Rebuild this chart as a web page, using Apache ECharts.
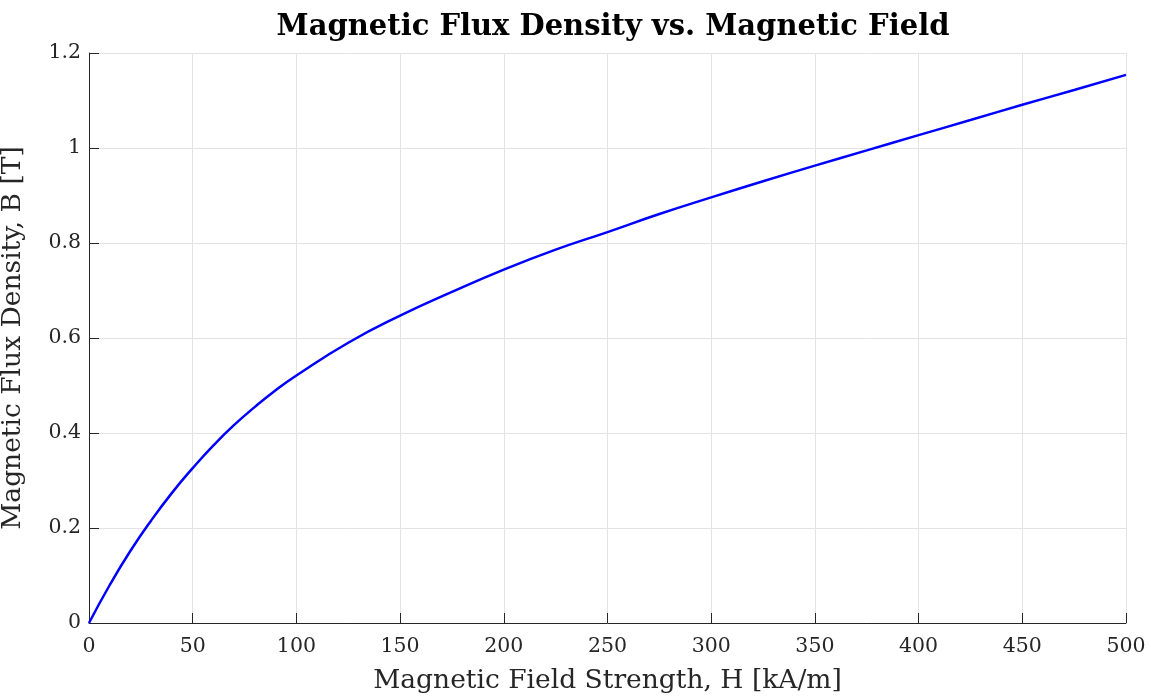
<!DOCTYPE html>
<html>
<head>
<meta charset="utf-8">
<script src="https://cdn.jsdelivr.net/npm/echarts@6/dist/echarts.min.js"></script>
<style>
	html, body {margin: 0; padding: 0; background: #fff;}
	#chart {width: 1151px; height: 697px;}
</style>
</head>
<body>
<div id="chart"></div>
<script>
// H [kA/m] and B [T]
const fieldH = [0, 10, 20, 30, 40, 50, 60, 70, 80, 90, 100, 125, 150, 175, 200, 225, 250, 275, 300, 325, 350, 375, 400, 425, 450, 475, 500];
const fluxB = [0, 0.080, 0.152, 0.216, 0.274, 0.326, 0.374, 0.417, 0.455, 0.490, 0.521, 0.590, 0.647, 0.697, 0.744, 0.786, 0.823, 0.861, 0.896, 0.930, 0.963, 0.995, 1.027, 1.059, 1.091, 1.122, 1.154];
const xTicks = [0, 50, 100, 150, 200, 250, 300, 350, 400, 450, 500];
const yTicks = [0, 0.2, 0.4, 0.6, 0.8, 1, 1.2];

const font = '"DejaVu Serif", "Liberation Serif", serif';
const ink = '#262626';

let chart = echarts.init(document.getElementById('chart'));

let points = [];
fieldH.map((h, i) => points.push([h, fluxB[i]]));

let option = {
	animation: false,
	title: {
		text: 'Magnetic Flux Density vs. Magnetic Field',
		left: 608,
		textAlign: 'center',
		top: 8,
		textStyle: {
			fontFamily: font,
			fontWeight: 'bold',
			fontSize: 29,
			color: '#000'
		}
	},
	grid: {
		left: 89,
		right: 25,
		top: 53,
		bottom: 74,
		outerBoundsMode: 'none'
	},
	xAxis: {
		type: 'value',
		min: xTicks[0],
		max: xTicks[xTicks.length - 1],
		interval: 50,
		name: 'Magnetic Field Strength, H [kA/m]',
		nameLocation: 'middle',
		nameGap: 45,
		nameTextStyle: {fontFamily: font, fontSize: 26.5, color: ink},
		axisLine: {show: true, onZero: false, lineStyle: {color: ink, width: 1}},
		axisTick: {show: true, inside: true, length: 10, lineStyle: {color: ink}},
		axisLabel: {fontFamily: font, fontSize: 20.5, color: ink, margin: 13},
		splitLine: {show: true, lineStyle: {color: '#e3e3e3', width: 1}}
	},
	yAxis: {
		type: 'value',
		min: yTicks[0],
		max: yTicks[yTicks.length - 1],
		interval: 0.2,
		name: 'Magnetic Flux Density, B [T]',
		nameLocation: 'middle',
		nameGap: 62,
		nameRotate: 90,
		nameTextStyle: {fontFamily: font, fontSize: 26.5, color: ink},
		axisLine: {show: true, onZero: false, lineStyle: {color: ink, width: 1}},
		axisTick: {show: true, inside: true, length: 10, lineStyle: {color: ink}},
		axisLabel: {
			fontFamily: font, fontSize: 20.5, color: ink, margin: 8,
			formatter: v => String(Math.round(v * 10) / 10)
		},
		splitLine: {show: true, lineStyle: {color: '#e3e3e3', width: 1}}
	},
	series: [
		{
			type: 'line',
			data: points,
			smooth: 0.5,
			showSymbol: false,
			lineStyle: {color: '#0000ff', width: 2.5},
			itemStyle: {color: '#0000ff'}
		}
	]
};
chart.setOption(option);
</script>
</body>
</html>
